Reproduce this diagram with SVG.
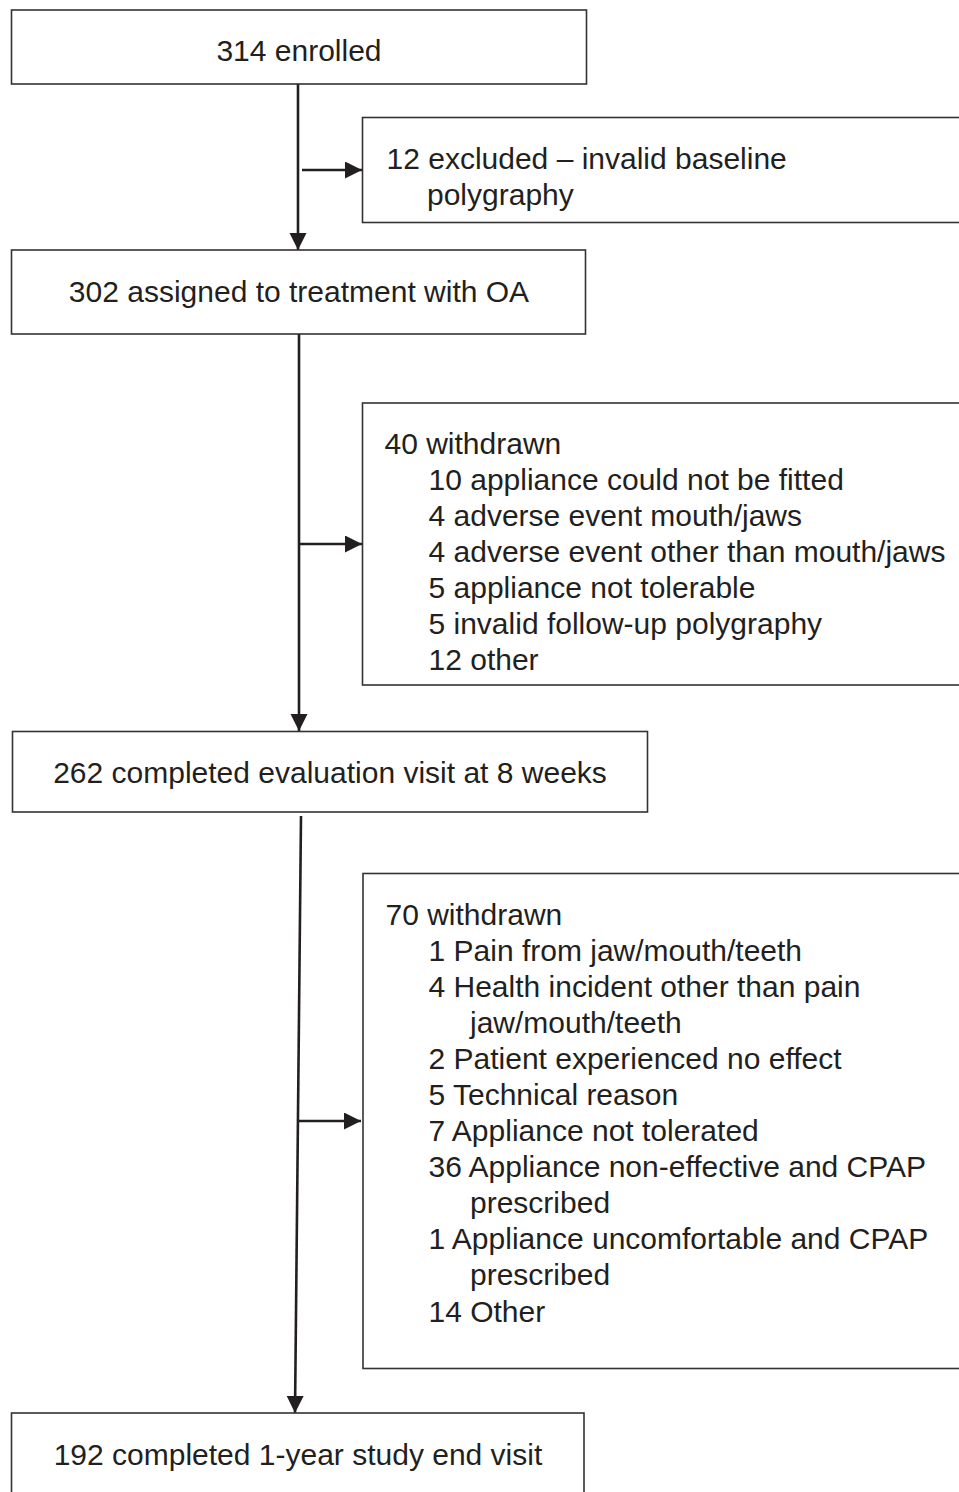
<svg xmlns="http://www.w3.org/2000/svg" width="959" height="1492" viewBox="0 0 959 1492">
<style>
  .box { fill: #ffffff; stroke: #333333; stroke-width: 1.6; }
  .t { font-family: "Liberation Sans", Arial, Helvetica, sans-serif; font-size: 30px; fill: #231f20; }
  .c { text-anchor: middle; }
  .conn { stroke: #231f20; stroke-width: 2.6; fill: none; }
</style>
<defs>
  <marker id="arrow" markerUnits="userSpaceOnUse" markerWidth="18" markerHeight="18" refX="17" refY="8.5" orient="auto">
    <path d="M0,0 L17,8.5 L0,17 Z" fill="#231f20"/>
  </marker>
</defs>
<rect width="959" height="1492" fill="#ffffff"/>

<g id="connectors">
  <path class="conn" d="M298,84 L298,250" marker-end="url(#arrow)"/>
  <path class="conn" d="M302,170 L362,170" marker-end="url(#arrow)"/>
  <path class="conn" d="M299,334 L299,731" marker-end="url(#arrow)"/>
  <path class="conn" d="M300,544 L362,544" marker-end="url(#arrow)"/>
  <path class="conn" d="M301,816 L295,1413" marker-end="url(#arrow)"/>
  <path class="conn" d="M299,1121 L361,1121" marker-end="url(#arrow)"/>
</g>

<g id="enrolled">
  <rect class="box" x="11.5" y="10" width="575" height="74"/>
  <text class="t c" x="299" y="61">314 enrolled</text>
</g>

<g id="excluded">
  <rect class="box" x="362.5" y="117.5" width="620" height="105"/>
  <text class="t" x="386.5" y="168.5">12 excluded – invalid baseline</text>
  <text class="t" x="427" y="204.5">polygraphy</text>
</g>

<g id="assigned">
  <rect class="box" x="11.5" y="250" width="574" height="84"/>
  <text class="t c" x="299" y="302">302 assigned to treatment with OA</text>
</g>

<g id="withdrawn40">
  <rect class="box" x="362.5" y="403" width="620" height="282"/>
  <text class="t" x="384.5" y="453.5">40 withdrawn</text>
  <text class="t" x="428.5" y="489.5">10 appliance could not be fitted</text>
  <text class="t" x="428.5" y="525.5">4 adverse event mouth/jaws</text>
  <text class="t" x="428.5" y="561.5">4 adverse event other than mouth/jaws</text>
  <text class="t" x="428.5" y="597.5">5 appliance not tolerable</text>
  <text class="t" x="428.5" y="633.5">5 invalid follow-up polygraphy</text>
  <text class="t" x="428.5" y="669.5">12 other</text>
</g>

<g id="completed8w">
  <rect class="box" x="12.5" y="731.5" width="635" height="80.5"/>
  <text class="t c" x="330" y="783">262 completed evaluation visit at 8 weeks</text>
</g>

<g id="withdrawn70">
  <rect class="box" x="363" y="873.5" width="620" height="495"/>
  <text class="t" x="385.5" y="925">70 withdrawn</text>
  <text class="t" x="428.5" y="961">1 Pain from jaw/mouth/teeth</text>
  <text class="t" x="428.5" y="997">4 Health incident other than pain</text>
  <text class="t" x="470" y="1033">jaw/mouth/teeth</text>
  <text class="t" x="428.5" y="1069">2 Patient experienced no effect</text>
  <text class="t" x="428.5" y="1105">5 Technical reason</text>
  <text class="t" x="428.5" y="1141">7 Appliance not tolerated</text>
  <text class="t" x="428.5" y="1177">36 Appliance non-effective and CPAP</text>
  <text class="t" x="470" y="1213">prescribed</text>
  <text class="t" x="428.5" y="1249">1 Appliance uncomfortable and CPAP</text>
  <text class="t" x="470" y="1285">prescribed</text>
  <text class="t" x="428.5" y="1321.5">14 Other</text>
</g>

<g id="completed1y">
  <rect class="box" x="11.5" y="1413" width="572.5" height="100"/>
  <text class="t c" x="298" y="1465">192 completed 1-year study end visit</text>
</g>
</svg>
